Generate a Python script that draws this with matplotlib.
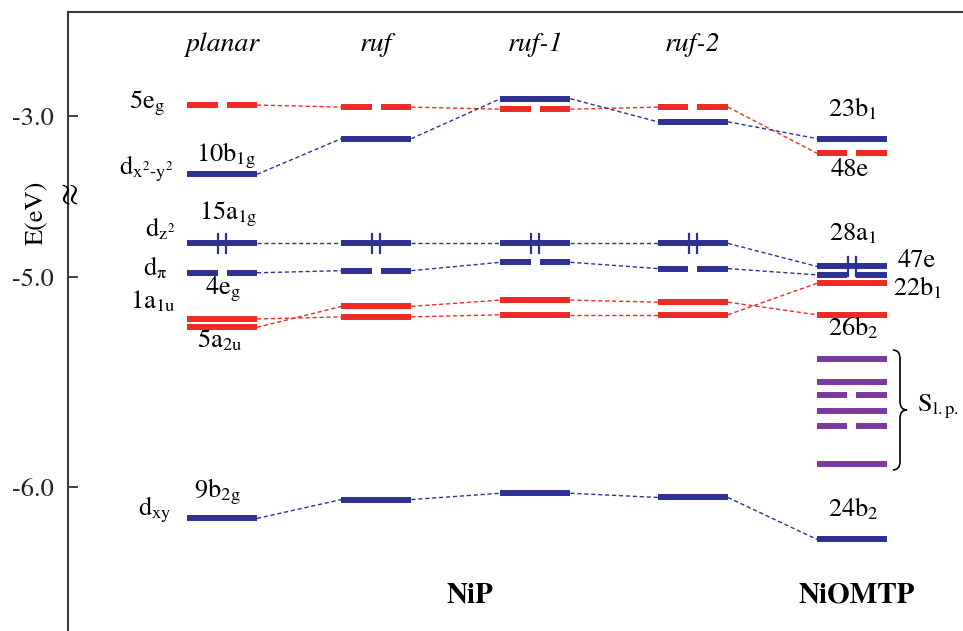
import numpy as np
import matplotlib
matplotlib.use("Agg")
import matplotlib.pyplot as plt
from matplotlib.path import Path
from matplotlib.patches import PathPatch

plt.rcParams['font.family'] = ['STIXGeneral', 'DejaVu Serif']
plt.rcParams['mathtext.fontset'] = 'stix'

# ---- data (eV), columns: planar, ruf, ruf-1, ruf-2, NiOMTP ----
columns = ['planar', 'ruf', 'ruf-1', 'ruf-2']
groups = ['NiP', 'NiOMTP']

e_5eg = [-2.95, -2.96, -2.97, -2.96, -3.18]   # 5eg  -> 48e
e_b1g = [-3.28, -3.11, -2.92, -3.03, -3.11]   # 10b1g -> 23b1
e_dz2 = [-4.84, -4.84, -4.84, -4.84, -4.95]   # 15a1g -> 28a1
e_dpi = [-4.98, -4.97, -4.93, -4.96, -4.99]   # 4eg  -> 47e
e_a1u = [-5.20, -5.19, -5.18, -5.18, -5.03]   # 1a1u -> 22b1
e_a2u = [-5.24, -5.14, -5.11, -5.12, -5.18]   # 5a2u -> 26b2
e_dxy = [-6.15, -6.06, -6.03, -6.05, -6.25]   # 9b2g -> 24b2
e_slp = [-5.39, -5.50, -5.56, -5.64, -5.71, -5.89]   # sulfur lone pairs
slp_degenerate = [False, False, True, False, True, False]

yticks = [-6.0, -5.0, -3.0]
ytick_labels = ['-6.0', '-5.0', '-3.0']

# ---- layout ----
col_x = [0.0, 0.98, 1.99, 2.99, 4.0]
half = 0.222
gap = 0.057
BLUE = '#2E3192'
RED = '#EE2A24'
PURPLE = '#7B3A9E'
BAR_LW = 4.3
LINK = dict(lw=1.0, ls=(0, (3, 2)))

# broken energy axis: the range between -4.6 and -3.367 eV is cut out
cut_lo, cut_hi = -4.6, -3.367
e_nodes = [-20.0, cut_lo, cut_hi, 5.0]
u_nodes = [-20.0, cut_lo, cut_lo + 0.002, cut_lo + 0.002 + (5.0 - cut_hi)]


def forward(e):
    return np.interp(e, e_nodes, u_nodes)


def inverse(u):
    return np.interp(u, u_nodes, e_nodes)


fig = plt.figure(figsize=(9.63, 6.31), dpi=100)
ax = fig.add_axes([68 / 963, 0, 895 / 963, 619 / 631])
ax.set_yscale('function', functions=(forward, inverse))
ax.set_ylim(-6.686, -2.507)
ax.set_xlim(-0.978, 4.705)


def draw_level(x, e, color, degenerate=False):
    if degenerate:
        ax.plot([x - half, x - gap / 2], [e, e], color=color, lw=BAR_LW, solid_capstyle='butt')
        ax.plot([x + gap / 2, x + half], [e, e], color=color, lw=BAR_LW, solid_capstyle='butt')
    else:
        ax.plot([x - half, x + half], [e, e], color=color, lw=BAR_LW, solid_capstyle='butt')


series = [
    (e_5eg, RED, True, False),
    (e_b1g, BLUE, False, False),
    (e_dz2, BLUE, False, True),
    (e_dpi, BLUE, True, False),
    (e_a1u, RED, False, False),
    (e_a2u, RED, False, False),
    (e_dxy, BLUE, False, False),
]

for energies, color, degenerate, occupied in series:
    for x, e in zip(col_x, energies):
        draw_level(x, e, color, degenerate)
        if occupied:
            for dx in (-0.025, 0.025):
                ax.plot([x + dx, x + dx], [e - 0.045, e + 0.045], color=color, lw=1.6)
    for i in range(len(col_x) - 1):
        ax.plot([col_x[i] + half, col_x[i + 1] - half], [energies[i], energies[i + 1]],
                color=color, **LINK)

for e, deg in zip(e_slp, slp_degenerate):
    draw_level(col_x[4], e, PURPLE, deg)

# curly brace next to the lone pair levels
bx_tip, bx_spine, bx_point = 4.26, 4.305, 4.35
by_top, by_mid, by_bot, r = -5.348, -5.633, -5.919, 0.04
verts = [(bx_tip, by_top), (bx_spine, by_top), (bx_spine, by_top - r),
         (bx_spine, by_mid + r), (bx_spine, by_mid), (bx_point, by_mid),
         (bx_spine, by_mid), (bx_spine, by_mid - r),
         (bx_spine, by_bot + r), (bx_spine, by_bot), (bx_tip, by_bot)]
codes = [Path.MOVETO, Path.CURVE3, Path.CURVE3,
         Path.LINETO, Path.CURVE3, Path.CURVE3,
         Path.CURVE3, Path.CURVE3,
         Path.LINETO, Path.CURVE3, Path.CURVE3]
ax.add_patch(PathPatch(Path(verts, codes), fill=False, color='black', lw=1.2))

# ---- level labels: (text, column, energy, dx px, dy px, ha) ----
FS = 19
labels = [
    (r'5e$_\mathrm{g}$', 0, e_5eg[0], -57, -3, 'right'),
    (r'10b$_\mathrm{1g}$', 0, e_b1g[0], 4, 13, 'center'),
    ('d$_\\mathrm{x^2\u2010y^2}$', 0, e_b1g[0], -49, 0, 'right'),
    (r'15a$_\mathrm{1g}$', 0, e_dz2[0], 6, 24, 'center'),
    (r'd$_\mathrm{z^2}$', 0, e_dz2[0], -47, 7, 'right'),
    (r'd$_\mathrm{\pi}$', 0, e_dpi[0], -55, -3, 'right'),
    (r'4e$_\mathrm{g}$', 0, e_dpi[0], 1, -22, 'center'),
    (r'1a$_\mathrm{1u}$', 0, e_a1u[0], -47, 11, 'right'),
    (r'5a$_\mathrm{2u}$', 0, e_a2u[0], -2, -20, 'center'),
    (r'9b$_\mathrm{2g}$', 0, e_dxy[0], -5, 21, 'center'),
    (r'd$_\mathrm{xy}$', 0, e_dxy[0], -50, 3, 'right'),
    (r'23b$_\mathrm{1}$', 4, e_b1g[4], 1, 22, 'center'),
    ('48e', 4, e_5eg[4], -2, -23, 'center'),
    (r'28a$_\mathrm{1}$', 4, e_dz2[4], 1, 26, 'center'),
    ('47e', 4, e_dpi[4], 46, 8, 'left'),
    (r'22b$_\mathrm{1}$', 4, e_a1u[4], 41, -12, 'left'),
    (r'26b$_\mathrm{2}$', 4, e_a2u[4], 1, -21, 'center'),
    (r'24b$_\mathrm{2}$', 4, e_dxy[4], 1, 23, 'center'),
]
for text, col, e, dx, dy, ha in labels:
    ax.annotate(text, xy=(col_x[col], e), xytext=(dx * 0.72, dy * 0.72),
                textcoords='offset points', ha=ha, va='baseline', fontsize=FS)

ax.annotate(r'S$_\mathrm{l.p.}$', xy=(bx_point, by_mid), xytext=(10 * 0.72, -2 * 0.72),
            textcoords='offset points', ha='left', va='baseline', fontsize=FS)

# column headers and group names
trans = ax.get_xaxis_transform()
for x, name in zip(col_x, columns):
    ax.text(x, 0.948, name, transform=trans, ha='center', va='center',
            fontsize=20, style='italic')
ax.text(1.575, 0.058, groups[0], transform=trans, ha='center', va='center',
        fontsize=21, weight='bold')
ax.text(4.03, 0.058, groups[1], transform=trans, ha='center', va='center',
        fontsize=21, weight='bold')

# axes styling
for side in ('right', 'bottom'):
    ax.spines[side].set_visible(False)
for side in ('left', 'top'):
    ax.spines[side].set_color('#3a3a3a')
    ax.spines[side].set_linewidth(1.5)
ax.set_xticks([])
ax.set_yticks(yticks)
ax.set_yticklabels(ytick_labels)
ax.yaxis.set_minor_locator(matplotlib.ticker.NullLocator())
ax.tick_params(axis='y', direction='in', length=7.5, width=1.2, pad=10,
               labelsize=19, colors='#222222')
ax.text(-0.0346, 0.675, 'E(eV)', transform=ax.transAxes, rotation=90,
        ha='center', va='center', fontsize=19)
ax.text(0.002, -4.0, '\u2248', transform=ax.get_yaxis_transform(), rotation=90,
        ha='center', va='center', fontsize=24)

fig.savefig('out.png', dpi=100)
